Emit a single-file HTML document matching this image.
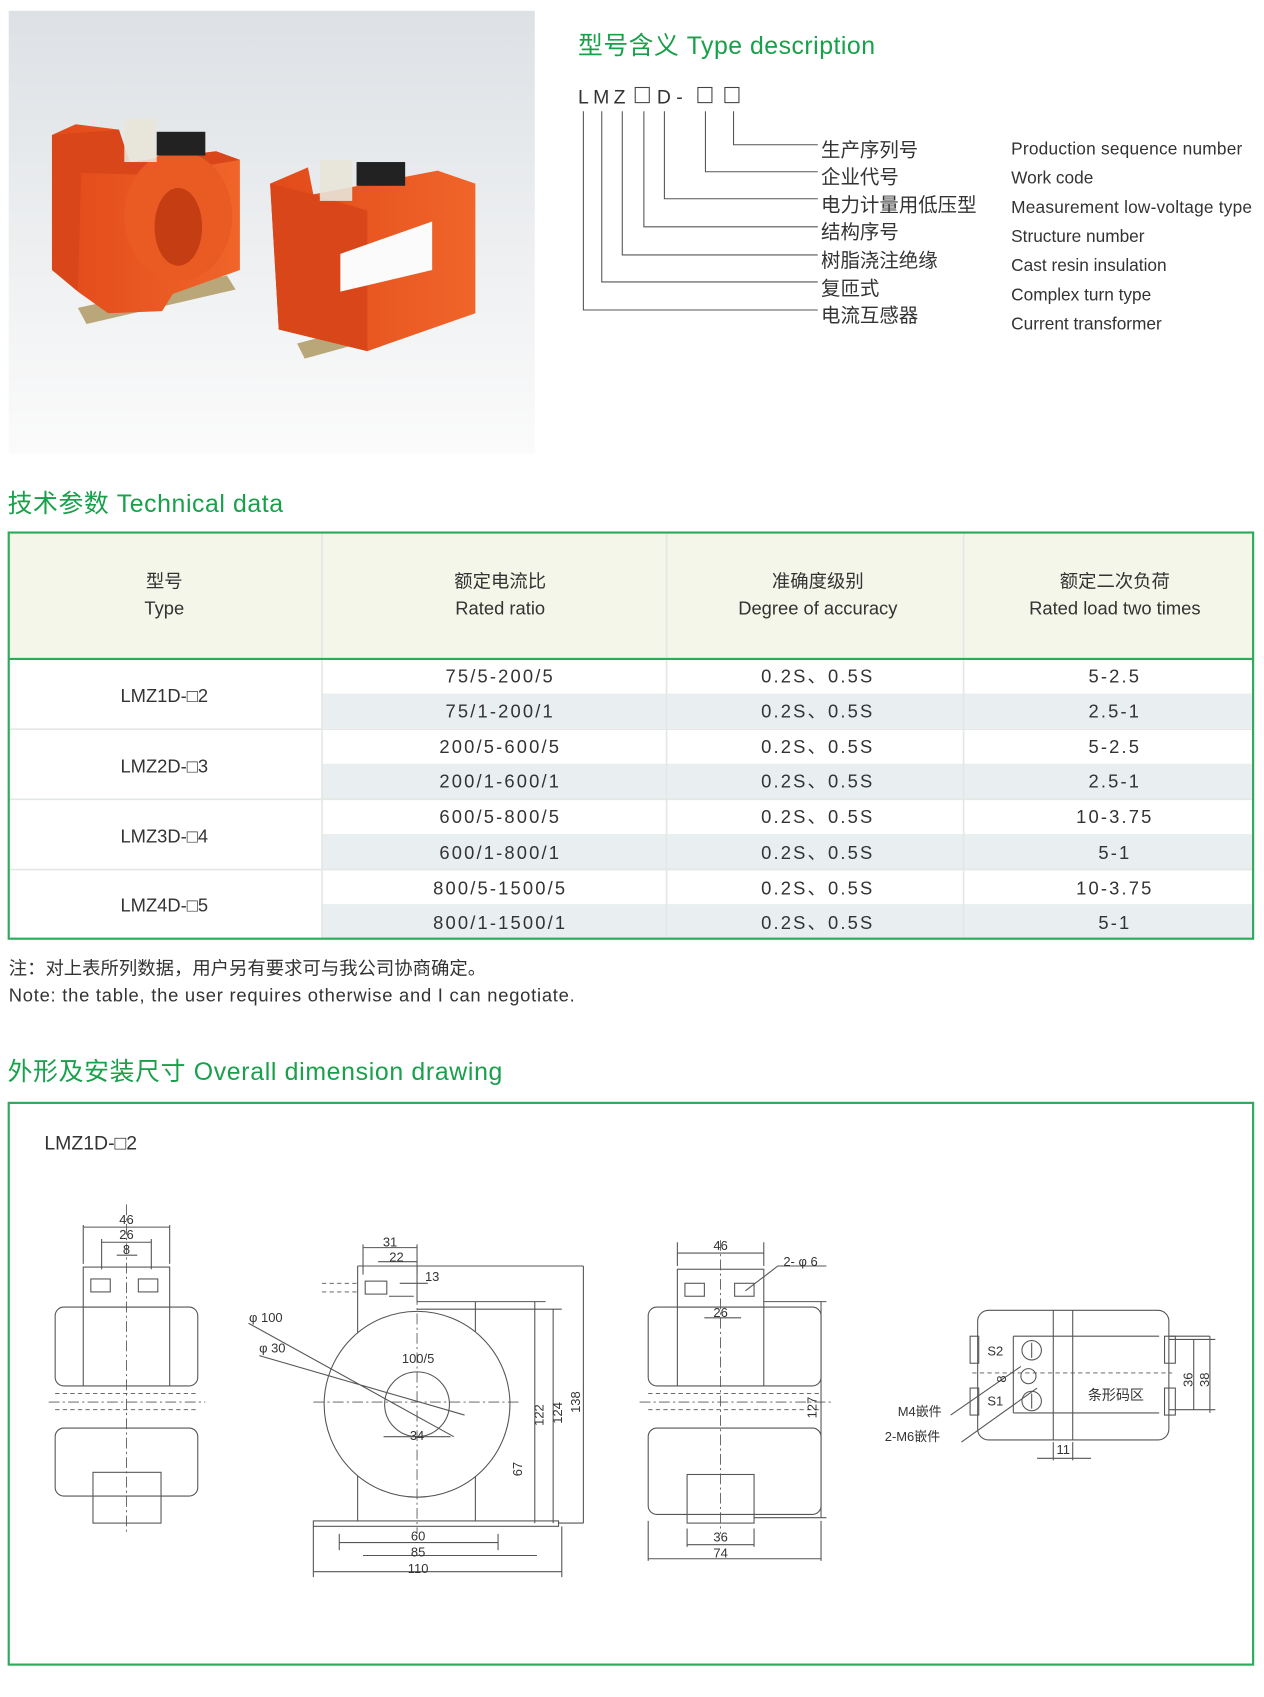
<!DOCTYPE html>
<html><head><meta charset="utf-8"><style>
html,body{margin:0;padding:0;background:#fff}
svg{display:block}
text{font-family:"Liberation Sans","Noto Sans CJK SC",sans-serif;fill:#333}
.g{fill:#18a04a}
.d{font-size:12px;fill:#444}
.ln{stroke:#555;stroke-width:1;fill:none}
.cl{stroke:#555;stroke-width:.8;stroke-dasharray:10 3 2 3;fill:none}
.dh{stroke:#555;stroke-width:.8;stroke-dasharray:4 3;fill:none}
</style></head><body>
<svg width="1264" height="1697" viewBox="0 0 1170 1571" xmlns="http://www.w3.org/2000/svg">
<defs>
<linearGradient id="bg" x1="0" y1="0" x2="0" y2="1"><stop offset="0" stop-color="#dde1e5"/><stop offset="1" stop-color="#fbfbfb"/></linearGradient>
<linearGradient id="or" x1="0" y1="0" x2="1" y2="0"><stop offset="0" stop-color="#e24a1a"/><stop offset="1" stop-color="#f0652a"/></linearGradient>
</defs>
<!-- photo -->
<rect x="8" y="10" width="487" height="410" fill="url(#bg)"/>
<g>
<polygon points="72,285 210,255 218,268 80,300" fill="#b9a77a"/>
<path d="M48,125 L70,115 L110,120 L120,150 L200,140 L222,148 L222,250 L160,272 L150,288 L100,290 L72,270 Z" fill="url(#or)"/>
<path d="M48,125 L110,120 L120,150 L200,140 L222,148 L140,162 L75,160 L72,270 L48,250 Z" fill="#d8461a"/>
<ellipse cx="165" cy="200" rx="50" ry="60" fill="#e95b22"/>
<ellipse cx="165" cy="210" rx="22" ry="36" fill="#c53d12"/>
<rect x="115" y="110" width="30" height="40" fill="#e8e4d8" opacity=".9"/>
<rect x="145" y="122" width="45" height="22" fill="#222"/>
<polygon points="275,318 400,285 405,298 282,332" fill="#b9a77a"/>
<path d="M250,170 L285,155 L290,180 L405,158 L440,170 L440,290 L340,325 L258,305 Z" fill="url(#or)"/>
<path d="M250,170 L290,180 L340,195 L340,325 L258,305 Z" fill="#d8461a"/>
<polygon points="315,235 400,205 400,250 315,270" fill="#fbfbfb"/>
<rect x="296" y="148" width="30" height="38" fill="#e8e4d8" opacity=".9"/>
<rect x="330" y="150" width="45" height="22" fill="#222"/>
</g>
<!-- type description -->
<text x="535" y="50" class="g" font-size="23" textLength="275">型号含义  Type description</text>
<text x="535" y="96" font-size="18" letter-spacing="4">LMZ</text>
<rect x="588" y="81" width="13" height="14" fill="none" stroke="#444"/>
<text x="608" y="96" font-size="18">D -</text>
<rect x="646" y="81" width="13" height="14" fill="none" stroke="#444"/>
<rect x="671" y="81" width="13" height="14" fill="none" stroke="#444"/>
<g class="ln">
<path d="M540,103V287H757M557,103V261H757M576,103V236H757M596,103V210H757M615,103V184H757M653,103V159H757M679,103V134H757"/>
</g>
<g font-size="18">
<text x="760" y="145">生产序列号</text><text x="760" y="170">企业代号</text><text x="760" y="196">电力计量用低压型</text><text x="760" y="221">结构序号</text><text x="760" y="247">树脂浇注绝缘</text><text x="760" y="273">复匝式</text><text x="760" y="298">电流互感器</text>
</g>
<g font-size="16">
<text x="936" y="143" textLength="214">Production sequence number</text><text x="936" y="170">Work code</text><text x="936" y="197" textLength="223">Measurement low-voltage type</text><text x="936" y="224">Structure number</text><text x="936" y="251">Cast resin insulation</text><text x="936" y="278">Complex turn type</text><text x="936" y="305">Current transformer</text>
</g>
<!-- technical data -->
<text x="7" y="474" class="g" font-size="23" textLength="255">技术参数  Technical data</text>
<rect x="8" y="494" width="1152" height="116" fill="#f3f6e8"/>
<rect x="298" y="642" width="862" height="32" fill="#e9eef1"/>
<rect x="298" y="707" width="862" height="33" fill="#e9eef1"/>
<rect x="298" y="772" width="862" height="33" fill="#e9eef1"/>
<rect x="298" y="837" width="862" height="32" fill="#e9eef1"/>
<g stroke="#e4e8e4" stroke-width="1.5">
<path d="M298,494V869M617,494V869M892,494V869"/>
<path d="M8,675H1160M8,740H1160M8,805H1160"/>
</g>
<rect x="8" y="493" width="1152" height="376" fill="none" stroke="#2daa5a" stroke-width="2"/>
<line x1="8" y1="610" x2="1160" y2="610" stroke="#2daa5a" stroke-width="2"/>
<g font-size="17" text-anchor="middle">
<text x="152" y="544">型号</text><text x="152" y="569">Type</text>
<text x="463" y="544">额定电流比</text><text x="463" y="569">Rated ratio</text>
<text x="757" y="544">准确度级别</text><text x="757" y="569">Degree of accuracy</text>
<text x="1032" y="544">额定二次负荷</text><text x="1032" y="569">Rated load two times</text>
<text x="152" y="650">LMZ1D-□2</text><text x="152" y="715">LMZ2D-□3</text><text x="152" y="780">LMZ3D-□4</text><text x="152" y="844">LMZ4D-□5</text>
</g>
<g font-size="17" text-anchor="middle" letter-spacing="2">
<text x="463" y="632">75/5-200/5</text><text x="463" y="664">75/1-200/1</text><text x="463" y="697">200/5-600/5</text><text x="463" y="729">200/1-600/1</text><text x="463" y="762">600/5-800/5</text><text x="463" y="795">600/1-800/1</text><text x="463" y="828">800/5-1500/5</text><text x="463" y="860">800/1-1500/1</text>
<text x="757" y="632">0.2S、0.5S</text><text x="757" y="664">0.2S、0.5S</text><text x="757" y="697">0.2S、0.5S</text><text x="757" y="729">0.2S、0.5S</text><text x="757" y="762">0.2S、0.5S</text><text x="757" y="795">0.2S、0.5S</text><text x="757" y="828">0.2S、0.5S</text><text x="757" y="860">0.2S、0.5S</text>
<text x="1032" y="632">5-2.5</text><text x="1032" y="664">2.5-1</text><text x="1032" y="697">5-2.5</text><text x="1032" y="729">2.5-1</text><text x="1032" y="762">10-3.75</text><text x="1032" y="795">5-1</text><text x="1032" y="828">10-3.75</text><text x="1032" y="860">5-1</text>
</g>
<text x="8" y="902" font-size="17">注：对上表所列数据，用户另有要求可与我公司协商确定。</text>
<text x="8" y="927" font-size="17" textLength="524">Note: the table, the user requires otherwise and I can negotiate.</text>
<!-- dimension drawing -->
<text x="7" y="1000" class="g" font-size="23" textLength="458">外形及安装尺寸   Overall dimension drawing</text>
<rect x="8" y="1021" width="1152" height="520" fill="none" stroke="#2daa5a" stroke-width="2"/>
<text x="41" y="1064" font-size="18">LMZ1D-□2</text>
<!-- left view -->
<g class="ln">
<rect x="77" y="1173" width="80" height="37"/>
<rect x="51" y="1210" width="132" height="73" rx="8"/>
<rect x="51" y="1322" width="132" height="63" rx="8"/>
<path d="M77,1210V1283M157,1210V1283"/>
<rect x="86" y="1363" width="63" height="47"/>
<rect x="84" y="1184" width="18" height="12"/><rect x="128" y="1184" width="18" height="12"/>
<path d="M77,1134V1170M157,1134V1170M77,1136H157M94,1150H140M94,1147V1175M140,1147V1175M108,1162H127"/>
</g>
<path class="cl" d="M117,1115V1420M45,1298H190"/>
<path class="dh" d="M51,1290H183M51,1305H183"/>
<g class="d" text-anchor="middle"><text x="117" y="1133">46</text><text x="117" y="1147">26</text><text x="117" y="1161">8</text></g>
<!-- middle view -->
<g class="ln">
<path d="M331,1172H386V1205M331,1172V1408M440,1205V1408M386,1205H440"/>
<circle cx="386" cy="1300" r="86" fill="#fff"/>
<circle cx="386" cy="1300" r="30"/>
<rect x="290" y="1408" width="227" height="5"/>
<path d="M386,1172H540M440,1205H505M386,1212H520M517,1410H540"/>
<path d="M495,1205V1410M512,1212V1410M540,1172V1410"/>
<path d="M314,1420V1435M461,1420V1435M314,1428H461M336,1440H497M290,1455H520M290,1413V1460M520,1413V1460"/>
<path d="M336,1152V1180M386,1152V1180M336,1155H386M350,1168H386M370,1188H396"/>
<path d="M355,1330H417M230,1225L420,1330M240,1255L430,1310M383,1200H360"/>
<rect x="338" y="1186" width="20" height="12"/>
</g>
<path class="cl" d="M386,1180V1420M290,1298H480"/>
<path class="dh" d="M298,1188H330M298,1196H330"/>
<g class="d" text-anchor="middle">
<text x="361" y="1154">31</text><text x="367" y="1168">22</text><text x="400" y="1186">13</text>
<text x="387" y="1262">100/5</text><text x="386" y="1333">34</text>
<text x="387" y="1426">60</text><text x="387" y="1441">85</text><text x="387" y="1456">110</text>
<text x="246" y="1224">φ 100</text><text x="252" y="1252">φ 30</text>
<text transform="translate(503,1310) rotate(-90)">122</text>
<text transform="translate(520,1308) rotate(-90)">124</text>
<text transform="translate(537,1298) rotate(-90)">138</text>
<text transform="translate(483,1360) rotate(-90)">67</text>
</g>
<!-- right view -->
<g class="ln">
<rect x="627" y="1175" width="80" height="35"/>
<rect x="600" y="1210" width="160" height="73" rx="8"/>
<rect x="600" y="1322" width="160" height="80" rx="8"/>
<path d="M627,1210V1283M707,1210V1283"/>
<rect x="636" y="1365" width="62" height="45"/>
<rect x="634" y="1188" width="18" height="12"/><rect x="680" y="1188" width="18" height="12"/>
<path d="M627,1150V1172M707,1150V1172M627,1160H707M652,1220H686M690,1195L720,1172H765M707,1205H765M760,1205V1405M698,1405H765"/>
<path d="M636,1415V1432M698,1415V1432M636,1430H698M600,1408V1445M760,1408V1445M600,1443H760"/>
</g>
<path class="cl" d="M667,1148V1420M592,1298H770"/>
<path class="dh" d="M600,1290H760M600,1305H760"/>
<g class="d" text-anchor="middle">
<text x="667" y="1157">46</text><text x="741" y="1172">2- φ 6</text><text x="667" y="1219">26</text>
<text x="667" y="1427">36</text><text x="667" y="1442">74</text>
<text transform="translate(756,1303) rotate(-90)">127</text>
</g>
<!-- far right view -->
<g class="ln">
<rect x="905" y="1213" width="177" height="120" rx="10"/>
<path d="M975,1213V1333M993,1213V1333M938,1237H1073M938,1308H1073M938,1237V1308"/>
<rect x="898" y="1237" width="8" height="25"/><rect x="898" y="1285" width="8" height="25"/>
<rect x="1078" y="1237" width="10" height="25"/><rect x="1078" y="1285" width="10" height="25"/>
<circle cx="955" cy="1250" r="9"/><circle cx="952" cy="1274" r="7"/><circle cx="955" cy="1297" r="9"/>
<path d="M955,1243V1257M955,1290V1304M1082,1240H1125M1082,1305H1125M1105,1240V1305M1120,1237V1308M1120,1237H1082"/>
<path d="M975,1335V1352M993,1335V1352M960,1350H1010M880,1310L945,1265M890,1335L960,1285"/>
</g>
<path class="dh" d="M900,1271H1085"/>
<g class="d">
<text x="914" y="1255">S2</text><text x="914" y="1301">S1</text>
<text x="1007" y="1296" font-size="13">条形码区</text>
<text x="831" y="1311">M4嵌件</text><text x="819" y="1334">2-M6嵌件</text>
<text x="978" y="1346">11</text>
<text transform="translate(1104,1284) rotate(-90)">36</text>
<text transform="translate(1119,1284) rotate(-90)">38</text>
<text transform="translate(931,1280) rotate(-90)">8</text>
</g>
</svg>
</body></html>
